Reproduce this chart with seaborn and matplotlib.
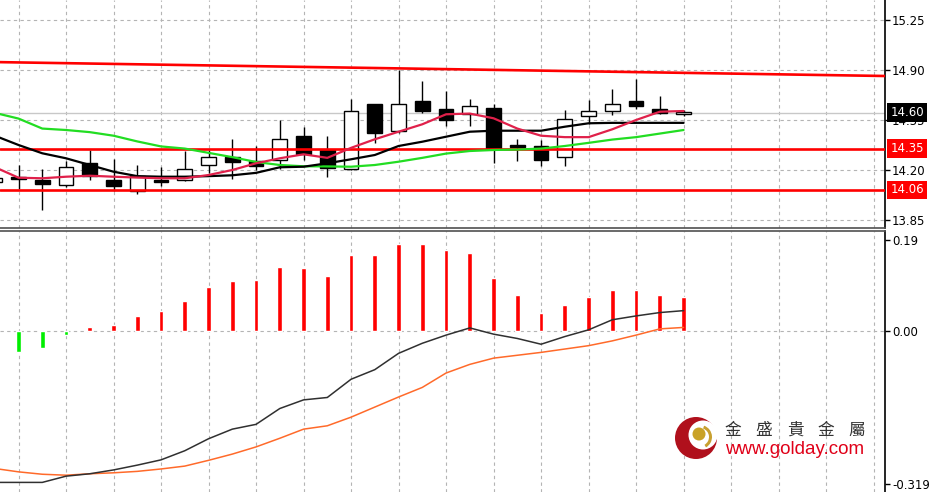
import numpy as np
import matplotlib
matplotlib.use("Agg")
import matplotlib.pyplot as plt
from matplotlib.patches import Circle, Wedge
import seaborn as sns

# daily candles, oldest first (the first one is cut by the left edge)
opens = [14.115, 14.15, 14.13, 14.095, 14.25, 14.13, 14.055, 14.13, 14.13, 14.235,
         14.29, 14.265, 14.27, 14.44, 14.34, 14.205, 14.66, 14.47, 14.68, 14.625,
         14.595, 14.635, 14.375, 14.365, 14.29, 14.575, 14.61, 14.68, 14.63, 14.59]
highs = [14.15, 14.235, 14.21, 14.26, 14.34, 14.28, 14.235, 14.22, 14.33, 14.34,
         14.42, 14.37, 14.55, 14.50, 14.44, 14.70, 14.66, 14.90, 14.82, 14.755,
         14.70, 14.665, 14.42, 14.41, 14.62, 14.69, 14.765, 14.84, 14.715, 14.62]
lows = [14.11, 14.07, 13.92, 14.08, 14.13, 14.05, 14.03, 14.085, 14.12, 14.18,
        14.14, 14.20, 14.21, 14.27, 14.15, 14.20, 14.39, 14.46, 14.60, 14.505,
        14.505, 14.25, 14.26, 14.225, 14.23, 14.52, 14.585, 14.625, 14.59, 14.575]
closes = [14.145, 14.14, 14.10, 14.22, 14.155, 14.085, 14.155, 14.115, 14.205, 14.29,
          14.255, 14.225, 14.42, 14.31, 14.215, 14.615, 14.46, 14.66, 14.61, 14.55,
          14.645, 14.355, 14.36, 14.27, 14.555, 14.61, 14.66, 14.645, 14.60, 14.605]

# moving averages
ma_fast = [14.22, 14.146, 14.142, 14.153, 14.16, 14.153, 14.147, 14.142, 14.142, 14.165,
           14.20, 14.247, 14.282, 14.31, 14.285, 14.355, 14.415, 14.468, 14.52, 14.59,
           14.595, 14.562, 14.49, 14.44, 14.43, 14.43, 14.485, 14.55, 14.608, 14.613]
ma_mid = [14.44, 14.375, 14.317, 14.282, 14.235, 14.188, 14.157, 14.153, 14.153, 14.157,
          14.163, 14.18, 14.219, 14.223, 14.247, 14.275, 14.305, 14.368, 14.398, 14.433,
          14.468, 14.475, 14.475, 14.475, 14.503, 14.527, 14.53, 14.53, 14.53, 14.53]
ma_slow = [14.60, 14.56, 14.49, 14.48, 14.465, 14.44, 14.40, 14.365, 14.35, 14.32,
           14.29, 14.256, 14.235, 14.226, 14.225, 14.223, 14.235, 14.258, 14.285, 14.315,
           14.333, 14.34, 14.343, 14.35, 14.368, 14.39, 14.413, 14.43, 14.455, 14.48]

# horizontal levels and the falling resistance line (value at left / right edge)
support_levels = [14.35, 14.06]
trend_ends = [14.955, 14.858]
last_price = 14.60
price_ticks = [13.85, 14.20, 14.55, 14.90, 15.25]

# MACD panel
macd_hist = [-0.045, -0.044, -0.035, -0.009, 0.007, 0.013, 0.031, 0.042, 0.063, 0.091,
             0.103, 0.106, 0.134, 0.131, 0.115, 0.159, 0.159, 0.180, 0.180, 0.168,
             0.162, 0.109, 0.075, 0.038, 0.054, 0.070, 0.085, 0.085, 0.075, 0.070]
macd_line = [-0.316, -0.316, -0.316, -0.303, -0.298, -0.290, -0.280, -0.269, -0.250, -0.225,
             -0.205, -0.195, -0.162, -0.144, -0.139, -0.101, -0.081, -0.047, -0.026, -0.009,
             0.006, -0.007, -0.016, -0.028, -0.012, 0.002, 0.023, 0.031, 0.038, 0.042]
signal_line = [-0.287, -0.294, -0.299, -0.301, -0.298, -0.296, -0.293, -0.288, -0.282, -0.270,
               -0.257, -0.242, -0.224, -0.205, -0.198, -0.180, -0.159, -0.138, -0.118, -0.088,
               -0.070, -0.057, -0.051, -0.045, -0.038, -0.031, -0.021, -0.009, 0.004, 0.007]
macd_ticks = [-0.319, 0.00, 0.19]

logo_chars = ["金", "盛", "貴", "金", "屬"]
logo_url = "www.golday.com"

sns.set_style("white")
plt.rcParams["font.family"] = ["DejaVu Sans"]

x = np.arange(len(opens))
xlim = (0.22, 37.48)
grid_kw = dict(color="#B4B4B4", lw=0.8, linestyle=(0, (3, 3)))

fig = plt.figure(figsize=(9.3, 4.92), dpi=100)
ax1 = fig.add_axes([0, 1 - 228 / 492, 885 / 930, 228 / 492])
ax2 = fig.add_axes([0, 0, 885 / 930, 261 / 492])

# ---- price panel
for xv in np.arange(1, 38, 2):
    ax1.axvline(xv, zorder=0, **grid_kw)
    ax2.axvline(xv, zorder=0, **grid_kw)
for yv in price_ticks:
    ax1.axhline(yv, zorder=0, **grid_kw)
ax1.axhline(last_price, color="#C8C8C8", lw=1, zorder=1)

o, h, l, c = map(np.array, (opens, highs, lows, closes))
up = c >= o
ax1.vlines(x, l, h, color="black", lw=1, zorder=2)
body_lo = np.minimum(o, c)
body_h = np.maximum(np.abs(c - o), 0.004)
ax1.bar(x, body_h, bottom=body_lo, width=0.62,
        color=np.where(up, "white", "black"), edgecolor="black", lw=1, zorder=3)

for lvl in support_levels:
    ax1.axhline(lvl, color="#FF0000", lw=1.9, zorder=4)
ax1.plot(xlim, trend_ends, color="#FF0000", lw=1.9, zorder=4)

sns.lineplot(x=x, y=ma_slow, ax=ax1, color="#22DD22", lw=1.6, zorder=5)
sns.lineplot(x=x, y=ma_mid, ax=ax1, color="black", lw=1.6, zorder=5)
sns.lineplot(x=x, y=ma_fast, ax=ax1, color="#E0204A", lw=1.6, zorder=6)

ax1.set_xlim(*xlim)
ax1.set_ylim(13.794, 15.39)
ax1.set_xticks([])
ax1.yaxis.tick_right()
ax1.set_yticks(price_ticks)
ax1.set_yticklabels([f"{v:.2f}" for v in price_ticks])

lbl_kw = dict(transform=ax1.get_yaxis_transform(), va="center", ha="left",
              color="white", fontsize=8.5, clip_on=False, zorder=10)
ax1.text(1.006, last_price, f"{last_price:.2f}",
         bbox=dict(boxstyle="square,pad=0.25", fc="black", ec="none"), **lbl_kw)
for lvl in support_levels:
    ax1.text(1.006, lvl, f"{lvl:.2f}",
             bbox=dict(boxstyle="square,pad=0.25", fc="#FF0000", ec="none"), **lbl_kw)

# ---- MACD panel
hist = np.array(macd_hist)
ax2.bar(x, hist, width=0.2, color=np.where(hist < 0, "#00EE00", "#FF0000"), zorder=3)
ax2.axhline(0, zorder=1, **grid_kw)
sns.lineplot(x=x, y=signal_line, ax=ax2, color="#FF6A2A", lw=1.1, zorder=4)
sns.lineplot(x=x, y=macd_line, ax=ax2, color="#303030", lw=1.1, zorder=5)

ax2.set_xlim(*xlim)
ax2.set_ylim(-0.336, 0.208)
ax2.set_xticks([])
ax2.yaxis.tick_right()
ax2.set_yticks(macd_ticks)
ax2.set_yticklabels(["-0.319", "0.00", "0.19"])

for ax in (ax1, ax2):
    ax.tick_params(axis="y", direction="out", length=3.5, width=1, pad=1.5,
                   labelsize=8.5, colors="black")
    ax.spines["left"].set_visible(False)
    ax.spines["right"].set_color("black")
    ax.spines["right"].set_linewidth(1.2)
    ax.set_xlabel("")
    ax.set_ylabel("")
ax1.spines["top"].set_visible(False)
ax1.spines["bottom"].set_color("#505050")
ax1.spines["bottom"].set_linewidth(1.2)
ax2.spines["bottom"].set_visible(False)
ax2.spines["top"].set_color("#505050")
ax2.spines["top"].set_linewidth(1.2)

# ---- watermark logo (pixel coordinates)
ov = fig.add_axes([0, 0, 1, 1], zorder=20)
ov.set_xlim(0, 930)
ov.set_ylim(492, 0)
ov.axis("off")
ov.patch.set_alpha(0)
ov.add_patch(Circle((696, 438), 21, fc="#B0101C", ec="none"))
ov.add_patch(Circle((703, 435), 14.5, fc="white", ec="none"))
ov.add_patch(Wedge((700, 437), 12, 290, 60, width=3, fc="#C8A030", ec="none"))
ov.add_patch(Circle((699, 434), 6.5, fc="#C9A227", ec="none"))
for cx, ch in zip(np.linspace(733, 857, len(logo_chars)), logo_chars):
    ov.text(cx, 430, ch, ha="center", va="center", fontsize=12,
            family=["Noto Sans CJK TC", "DejaVu Sans"], color="#333333")
ov.text(725, 449, logo_url, ha="left", va="center", fontsize=13.5,
        family=["Liberation Sans"], color="#E00018")

fig.savefig("out.png", dpi=100)
